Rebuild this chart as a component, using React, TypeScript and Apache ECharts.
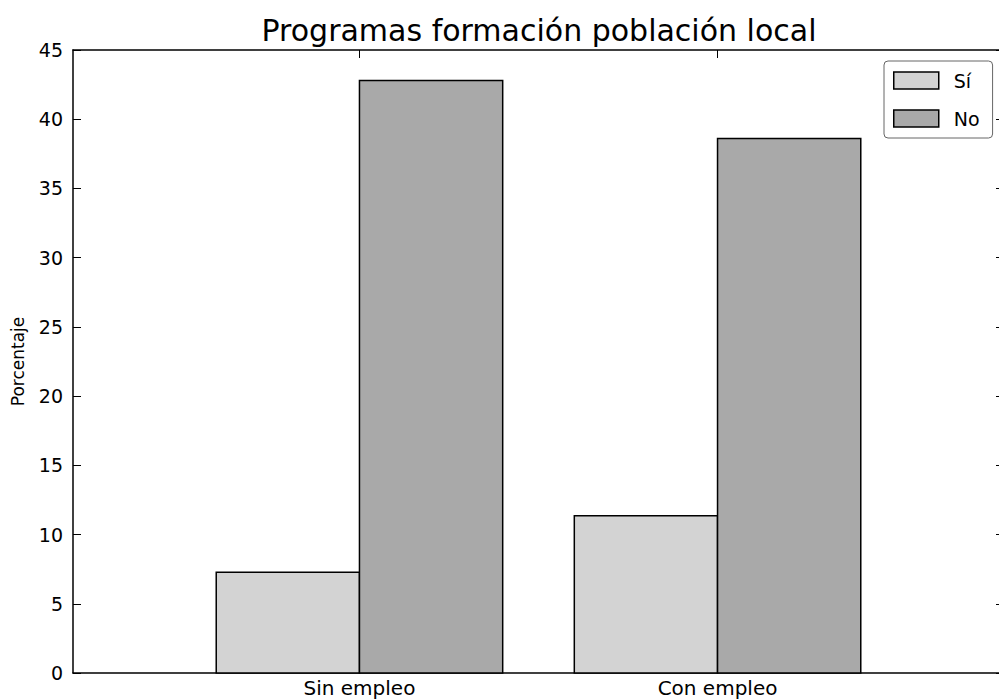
import React, { useEffect, useRef } from "react";
import * as echarts from "echarts";

const categories = ["Sin empleo", "Con empleo"];
const seriesNames = ["Sí", "No"];
const siValues = [7.27, 11.35];
const noValues = [42.8, 38.6];
const yTicks = [0, 5, 10, 15, 20, 25, 30, 35, 40, 45];

const FONT = "DejaVu Sans";

function barSeries(name: string, values: number[], offset0: number, offset1: number, color: string) {
  return {
    type: "custom",
    name,
    data: values.map((v, i) => [i, v]),
    itemStyle: { color, borderColor: "#000", borderWidth: 1.5 },
    renderItem: (params: any, api: any) => {
      const i = api.value(0);
      const v = api.value(1);
      const p0 = api.coord([i + offset0, v]);
      const p1 = api.coord([i + offset1, 0]);
      return {
        type: "rect",
        shape: { x: p0[0], y: p0[1], width: p1[0] - p0[0], height: p1[1] - p0[1] },
        style: { fill: color, stroke: "#000", lineWidth: 1.5 },
      };
    },
  };
}

export default function App() {
  const ref = useRef<HTMLDivElement>(null);
  useEffect(() => {
    if (!ref.current) return;
    const chart = echarts.init(ref.current, null, { renderer: "svg" });
    const axisLine = { show: true, onZero: false, lineStyle: { color: "#000", width: 1.5 } };
    const tick = { show: true, inside: true, length: 8, lineStyle: { color: "#000", width: 1 } };
    chart.setOption({
      animation: false,
      backgroundColor: "#fff",
      title: {
        text: "Programas formación población local",
        left: 534,
        textAlign: "center",
        top: 10,
        textStyle: { fontFamily: FONT, fontSize: 30, fontWeight: "normal", color: "#000" },
      },
      legend: {
        orient: "vertical",
        left: 884,
        top: 61,
        padding: [10, 13, 10, 9],
        itemWidth: 45,
        itemHeight: 17,
        itemGap: 19,
        icon: "rect",
        backgroundColor: "#fff",
        borderColor: "#666",
        borderWidth: 1,
        borderRadius: 4,
        textStyle: { fontFamily: FONT, fontSize: 19, color: "#000", padding: [0, 0, 0, 10] },
        data: [
          { name: seriesNames[0], itemStyle: { color: "#d3d3d3", borderColor: "#000", borderWidth: 1.5 } },
          { name: seriesNames[1], itemStyle: { color: "#a9a9a9", borderColor: "#000", borderWidth: 1.5 } },
        ],
      },
      grid: { left: 73, top: 50, right: 1, bottom: 27, containLabel: false },
      xAxis: [
        {
          type: "value",
          position: "bottom",
          min: -0.8,
          max: 1.8,
          axisLine,
          axisTick: { ...tick, customValues: [0, 1] },
          axisLabel: {
            customValues: [0, 1],
            formatter: (v: number) => categories[Math.round(v)] ?? "",
            fontFamily: FONT,
            fontSize: 20,
            color: "#000",
            margin: 5,
          },
          splitLine: { show: false },
        },
        {
          type: "value",
          position: "top",
          min: -0.8,
          max: 1.8,
          axisLine,
          axisTick: { ...tick, customValues: [0, 1] },
          axisLabel: { show: false },
          splitLine: { show: false },
        },
      ],
      yAxis: [
        {
          type: "value",
          position: "left",
          min: 0,
          max: 45,
          interval: 5,
          axisLine,
          axisTick: tick,
          axisLabel: {
            fontFamily: FONT,
            fontSize: 19,
            color: "#000",
            margin: 10,
            customValues: yTicks,
          },
          splitLine: { show: false },
          name: "Porcentaje",
          nameLocation: "middle",
          nameRotate: 90,
          nameGap: 47,
          nameTextStyle: { fontFamily: FONT, fontSize: 17, color: "#000" },
        },
        {
          type: "value",
          position: "right",
          min: 0,
          max: 45,
          interval: 5,
          axisLine,
          axisTick: tick,
          axisLabel: { show: false },
          splitLine: { show: false },
        },
      ],
      series: [
        barSeries(seriesNames[0], siValues, -0.4, 0, "#d3d3d3"),
        barSeries(seriesNames[1], noValues, 0, 0.4, "#a9a9a9"),
      ],
    });
    return () => chart.dispose();
  }, []);
  return (
    <div
      style={{ position: "fixed", left: 0, top: 0, width: 999, height: 700, overflow: "hidden", background: "#fff" }}
    >
      <div ref={ref} style={{ width: 1005, height: 700 }} />
    </div>
  );
}
